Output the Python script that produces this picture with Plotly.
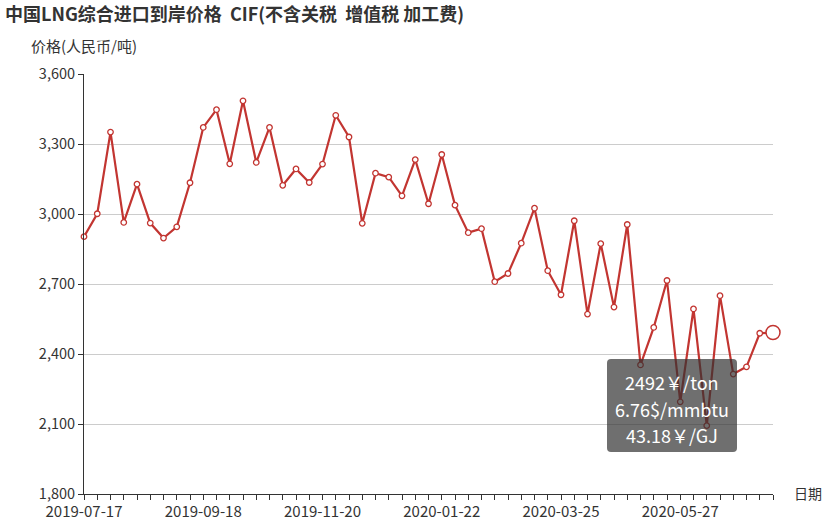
import plotly.graph_objects as go
from datetime import date, timedelta

# ---- data ----
start = date(2019, 7, 17)
dates = [(start + timedelta(weeks=i)).isoformat() for i in range(53)]
prices = [2903, 3001, 3351, 2964, 3128, 2961, 2897, 2945, 3134, 3371,
          3447, 3215, 3485, 3221, 3371, 3123, 3193, 3135, 3214, 3423,
          3330, 2960, 3175, 3158, 3078, 3233, 3044, 3255, 3038, 2920,
          2937, 2710, 2745, 2875, 3025, 2757, 2654, 2971, 2571, 2873,
          2601, 2955, 2353, 2514, 2715, 2195, 2593, 2093, 2650, 2314,
          2345, 2489, 2492]
tick_labels = [d if i % 9 == 0 else "" for i, d in enumerate(dates)]
y_ticks = [1800, 2100, 2400, 2700, 3000, 3300, 3600]

tip_price = 2492
tip_mmbtu = 6.76
tip_gj = 43.18

title_text = "中国LNG综合进口到岸价格  CIF(不含关税  增值税 加工费)"
y_name = "价格(人民币/吨)"
x_name = "日期"

FONT = "Noto Sans CJK SC"
RED = "#c23531"
W, H = 829, 521
L, R, T, B = 84, 56, 74, 27
pw, ph = W - L - R, H - T - B

def px_x(x):
    return (x - L) / pw

def px_y(y):
    return (H - B - y) / ph

fig = go.Figure()
fig.add_trace(go.Scatter(
    x=dates, y=prices, mode="lines+markers",
    line=dict(color=RED, width=2.2),
    marker=dict(size=5.5, color="white", line=dict(color=RED, width=1.3)),
    cliponaxis=False, hoverinfo="skip", showlegend=False,
))
fig.add_trace(go.Scatter(
    x=[dates[-1]], y=[prices[-1]], mode="markers",
    marker=dict(size=14, color="white", line=dict(color=RED, width=1.5)),
    cliponaxis=False, hoverinfo="skip", showlegend=False,
))

# tooltip box (rounded rect)
x0, x1, y0, y1, r = 607, 737, 359, 452, 4
def P(x, y):
    return f"{px_x(x)},{px_y(y)}"
path = (f"M {P(x0 + r, y0)} L {P(x1 - r, y0)} Q {P(x1, y0)} {P(x1, y0 + r)} "
        f"L {P(x1, y1 - r)} Q {P(x1, y1)} {P(x1 - r, y1)} "
        f"L {P(x0 + r, y1)} Q {P(x0, y1)} {P(x0, y1 - r)} "
        f"L {P(x0, y0 + r)} Q {P(x0, y0)} {P(x0 + r, y0)} Z")
fig.add_shape(type="path", path=path, xref="paper", yref="paper",
              fillcolor="rgba(50,50,50,0.7)", line=dict(width=0), layer="above")

tip_lines = [f"{tip_price}￥/ton", f"{tip_mmbtu}$/mmbtu", f"{tip_gj}￥/GJ"]
for i, t in enumerate(tip_lines):
    fig.add_annotation(text=t, xref="paper", yref="paper",
                       x=px_x(672), y=px_y(382 + i * 26.5),
                       xanchor="center", yanchor="middle", showarrow=False,
                       font=dict(family=FONT, size=18, color="white"))

fig.add_annotation(text=y_name, xref="paper", yref="paper",
                   x=px_x(29), y=px_y(45), xanchor="left", yanchor="middle",
                   showarrow=False, font=dict(family=FONT, size=15, color="#333"))
fig.add_annotation(text=x_name, xref="paper", yref="paper",
                   x=px_x(792), y=px_y(493), xanchor="left", yanchor="middle",
                   showarrow=False, font=dict(family=FONT, size=14, color="#333"))

fig.update_layout(
    width=W, height=H,
    margin=dict(l=L, r=R, t=T, b=B),
    paper_bgcolor="white", plot_bgcolor="white",
    title=dict(text=f"<b>{title_text}</b>", x=5 / W, xanchor="left",
               y=1 - 15 / H, yanchor="middle",
               font=dict(family=FONT, size=18, color="#333")),
    font=dict(family=FONT, size=15, color="#333"),
    showlegend=False,
)
fig.update_xaxes(
    type="category", range=[0, len(dates) - 1],
    tickmode="array", tickvals=dates, ticktext=tick_labels,
    ticks="outside", ticklen=5, tickcolor="#333", tickangle=0,
    showline=True, linecolor="#333", linewidth=1,
    showgrid=False, zeroline=False, automargin=False,
    ticklabelstandoff=-1,
    tickfont=dict(family=FONT, size=15, color="#333"),
)
fig.update_yaxes(
    range=[1800, 3600], tickmode="array", tickvals=y_ticks,
    tickformat=",", ticks="outside", ticklen=5, tickcolor="#333",
    showline=True, linecolor="#333", linewidth=1,
    showgrid=True, gridcolor="#ccc", gridwidth=1, zeroline=False,
    automargin=False,
    tickfont=dict(family=FONT, size=14.5, color="#333"),
)

fig.write_html("out.html", config={"displayModeBar": False},
               post_script="document.body.style.margin='0';document.body.style.padding='0';")
